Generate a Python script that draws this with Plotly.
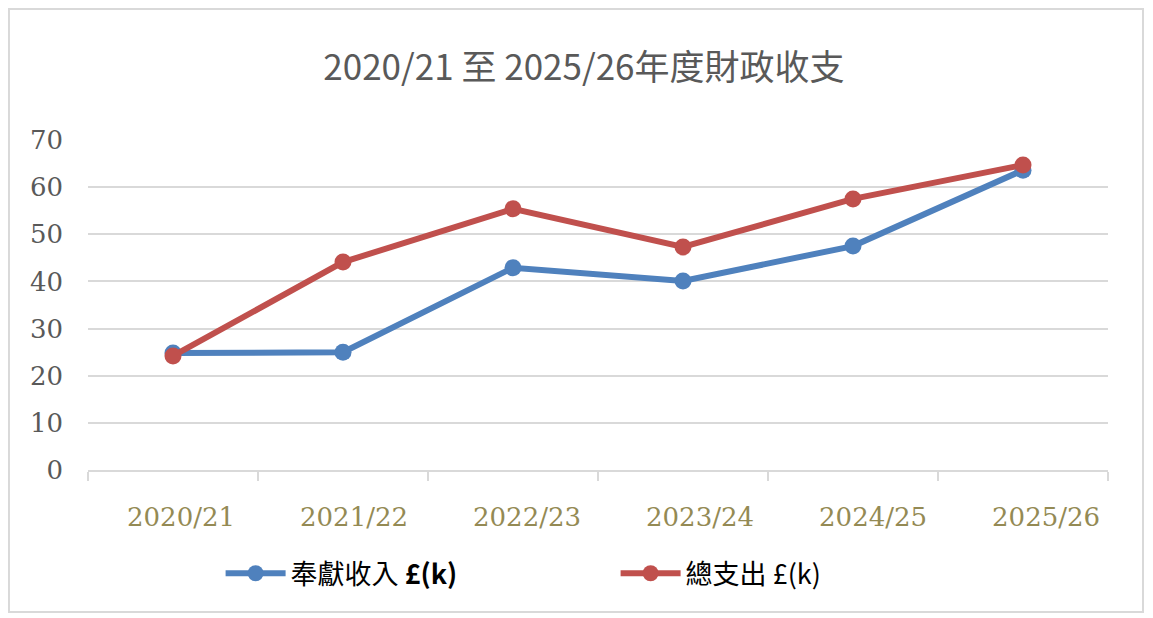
import plotly.graph_objects as go

years = ["2020/21", "2021/22", "2022/23", "2023/24", "2024/25", "2025/26"]
income = [24.8, 25.0, 42.9, 40.1, 47.5, 63.6]
spending = [24.2, 44.1, 55.4, 47.3, 57.5, 64.7]
y_ticks = [0, 10, 20, 30, 40, 50, 60, 70]

fig = go.Figure()
fig.add_trace(go.Scatter(x=years, y=income, mode="lines+markers", name="奉獻收入 <b>£(k)</b>",
                         line=dict(color="#4f81bd", width=6), marker=dict(size=17, color="#4f81bd")))
fig.add_trace(go.Scatter(x=years, y=spending, mode="lines+markers", name="總支出 £(k)",
                         line=dict(color="#c0504d", width=6), marker=dict(size=17, color="#c0504d")))

# page has an 8px body margin, so the figure is drawn 8px smaller and shifted
fig.update_layout(
    width=1145, height=610,
    paper_bgcolor="white", plot_bgcolor="white",
    margin=dict(l=80, r=45, t=132, b=148),
    title=dict(text="2020/21 至 2025/26年度財政收支", x=0.503, xanchor="center",
               yref="container", y=0.902, yanchor="middle",
               font=dict(family="Noto Sans CJK TC", size=35, color="#595959")),
    xaxis=dict(type="category", range=[-0.5, 5.5], tickson="boundaries", ticks="outside", ticklen=9,
               tickcolor="#d9d9d9", tickwidth=2, showgrid=False, showline=True, linecolor="#d9d9d9",
               linewidth=2, showticklabels=False),
    # labels in the original drift slightly right of the category centres
    xaxis2=dict(overlaying="x", anchor="y", side="bottom", range=[-0.5376, 5.358],
                tickvals=list(range(len(years))), ticktext=years, showgrid=False, zeroline=False,
                showline=False, ticks="", ticklabelstandoff=29,
                tickfont=dict(family="DejaVu Serif", size=26, color="#948a54")),
    yaxis=dict(range=[0, 70], tickvals=y_ticks, showgrid=True, gridcolor="#d9d9d9", gridwidth=2,
               zeroline=False, showline=False, ticks="", ticklabelstandoff=24,
               tickfont=dict(family="DejaVu Serif", size=26, color="#595959")),
    showlegend=True,
    legend=dict(orientation="h", x=0.13, xanchor="left", y=-0.24, yanchor="top",
                entrywidth=320, itemwidth=60,
                font=dict(family="Noto Sans CJK TC", size=27, color="black")),
    shapes=[dict(type="rect", xref="paper", yref="paper", x0=-0.0775, x1=1.0343, y0=-0.430, y1=1.397,
                 line=dict(color="#d9d9d9", width=2), layer="below")],
)
# an invisible trace keeps the label axis drawn
fig.add_trace(go.Scatter(x=[], y=[], xaxis="x2", showlegend=False, hoverinfo="skip"))

fig.write_html("out.html")
